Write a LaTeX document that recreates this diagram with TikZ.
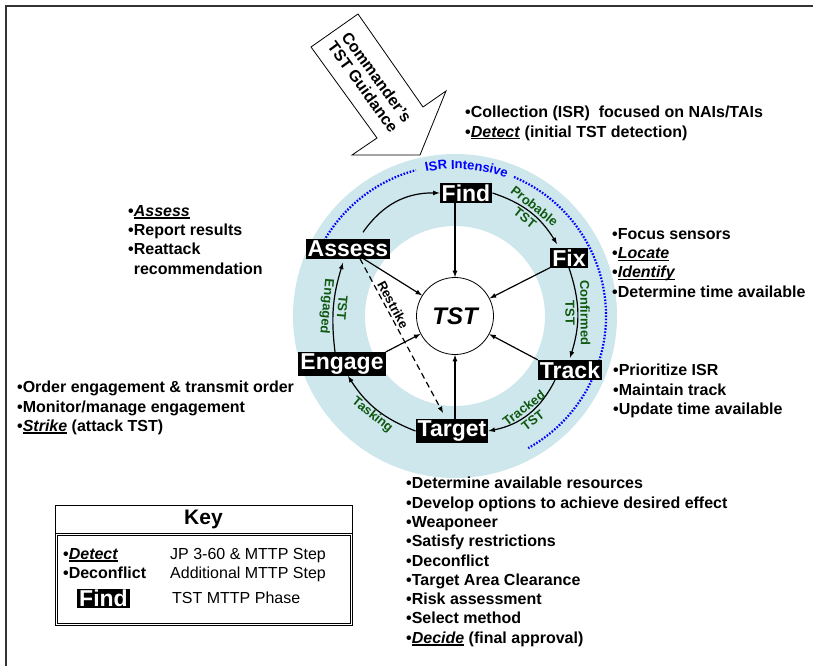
\documentclass[tikz,border=0pt]{standalone}
\usepackage{fontspec}
\setmainfont{Liberation Sans}
\usetikzlibrary{decorations.text}
\definecolor{ringblue}{RGB}{205,231,236}
\definecolor{isrblue}{RGB}{0,0,255}
\definecolor{tagreen}{RGB}{16,88,16}
\newcommand{\jpstep}[1]{\setbox0\hbox{\textit{#1}}\rlap{\rule[-2.3pt]{\wd0}{1.3pt}}\box0\relax}
\begin{document}
\begin{tikzpicture}[
    x=1pt, y=1pt,
    phase/.style={fill=black, text=white, inner xsep=2pt, inner ysep=1.5pt,
      font=\bfseries\fontsize{23}{24}\selectfont},
    hub/.style={circle, draw=black, fill=white, line width=0.8pt, minimum size=77pt,
      inner sep=0pt, font=\bfseries\itshape\fontsize{24}{26}\selectfont},
    steps/.style={anchor=north west, align=left, inner sep=0pt,
      font=\bfseries\fontsize{16}{19.3}\selectfont},
    keytext/.style={anchor=north west, inner sep=0pt, font=\fontsize{16}{19}\selectfont},
    tag/.style={text=tagreen, align=center, inner sep=0.5pt,
      font=\bfseries\fontsize{13}{15}\selectfont},
    flow/.style={draw, line width=1.2pt, -latex}
    ]

    \useasboundingbox (0,0) rectangle (813,-666);
    \draw[line width=1.6pt, black!80] (6,-666) -- (6,-6) -- (813,-6);

    \coordinate (c) at (455,-316);
    \fill[ringblue, even odd rule] (c) circle (162) (c) circle (90);
    \draw[isrblue, line width=2.2pt, dash pattern=on 1.6pt off 1.6pt]
      ([shift={(150:151)}]c) arc[start angle=150, end angle=105, radius=151]
      ([shift={(67:151)}]c) arc[start angle=67, end angle=-61, radius=151];
    \path[decorate, decoration={text along path, text align=center,
      text={|\color{isrblue}\bfseries\fontsize{13}{13}\selectfont|ISR Intensive}}]
      ([shift={(104:147)}]c) arc[start angle=104, end angle=67, radius=147];

    \draw[line width=0.8pt, fill=white] (311,-47) -- (358,-14) -- (423,-107) -- (446,-91)
      -- (420,-155) -- (352,-155) -- (377,-138) -- cycle;
    \node[rotate=-54, align=center, font=\bfseries\fontsize{16}{17}\selectfont]
      (guidance) at (370,-82) {Commander's\\TST Guidance};

    \node[hub] (tst) at (c) {TST};
    \node[phase] (find) at (466,-193) {Find};
    \node[phase] (fix) at (569,-258) {Fix};
    \node[phase] (track) at (570,-370) {Track};
    \node[phase] (target) at (452,-431) {Target};
    \node[phase] (engage) at (342,-364) {Engage};
    \node[phase] (assess) at (348,-249) {Assess};

    \draw[flow] ([xshift=15pt,yshift=7pt]assess.north) to[bend left=28] (find.west);
    \draw[flow] (find.east) to[bend left=20]
      node[tag, sloped] (probable) {Probable\\TST} ([xshift=-12pt,yshift=4pt]fix.north);
    \draw[flow] (fix.south) to[bend left=18]
      node[tag, sloped] (confirmed) {Confirmed\\TST} ([yshift=2pt]track.north);
    \draw[flow] ([xshift=-15pt]track.south) to[bend left=26]
      node[tag, sloped] (tracked) {Tracked\\TST} (target.east);
    \draw[flow] (target.west) to[bend left=18]
      node[tag, sloped, below] (tasking) {Tasking} ([xshift=6pt]engage.south);
    \draw[flow] ([xshift=-7pt]engage.north) to[bend left=12]
      node[tag, sloped, rotate=180] (engaged) {TST\\Engaged} ([xshift=-5pt,yshift=-4pt]assess.south);

    \draw[flow] (find.south -| tst) -- (tst);
    \draw[flow] (fix) -- (tst);
    \draw[flow] (track.north west) -- (tst);
    \draw[flow] (target.north -| tst) -- (tst);
    \draw[flow] (engage.north east) -- (tst);
    \draw[flow] (assess) -- (tst);
    \draw[flow, dash pattern=on 6pt off 4pt] ([xshift=12pt]assess.south)
      -- node[sloped, above, pos=0.32, inner sep=2pt, font=\bfseries\fontsize{13}{14}\selectfont]
      (restrike) {Restrike} ([xshift=-9pt,yshift=6pt]target.north);

    \node[steps] (findsteps) at (465,-106)
      {•Collection (ISR)\ \ focused on NAIs/TAIs\\•\jpstep{Detect} (initial TST detection)};
    \node[steps] (assesssteps) at (128,-205)
      {•\jpstep{Assess}\\•Report results\\•Reattack\\\hphantom{•}recommendation};
    \node[steps] (fixsteps) at (612,-228)
      {•Focus sensors\\•\jpstep{Locate}\\•\jpstep{Identify}\\•Determine time available};
    \node[steps] (tracksteps) at (613,-364)
      {•Prioritize ISR\\•Maintain track\\•Update time available};
    \node[steps] (engagesteps) at (17,-381)
      {•Order engagement \& transmit order\\•Monitor/manage engagement\\•\jpstep{Strike} (attack TST)};
    \node[steps] (targetsteps) at (406,-477)
      {•Determine available resources\\•Develop options to achieve desired effect\\•Weaponeer\\
       •Satisfy restrictions\\•Deconflict\\•Target Area Clearance\\•Risk assessment\\
       •Select method\\•\jpstep{Decide} (final approval)};

    \draw[line width=0.8pt] (55,-505) rectangle (352,-533);
    \node[font=\bfseries\fontsize{21}{22}\selectfont] (keytitle) at (203.5,-519) {Key};
    \draw[line width=1pt, double, double distance=1pt] (56,-534) rectangle (351,-624);
    \node[steps] (keyjp) at (63,-548) {•\jpstep{Detect}};
    \node[keytext] (keyjptext) at (170,-548) {JP 3-60 \& MTTP Step};
    \node[steps] (keymttp) at (63,-567) {•Deconflict};
    \node[keytext] (keymttptext) at (170,-567) {Additional MTTP Step};
    \node[phase] (keyphase) at (103.5,-598.5) {Find};
    \node[keytext] (keyphasetext) at (172,-592) {TST MTTP Phase};

\end{tikzpicture}
\end{document}
